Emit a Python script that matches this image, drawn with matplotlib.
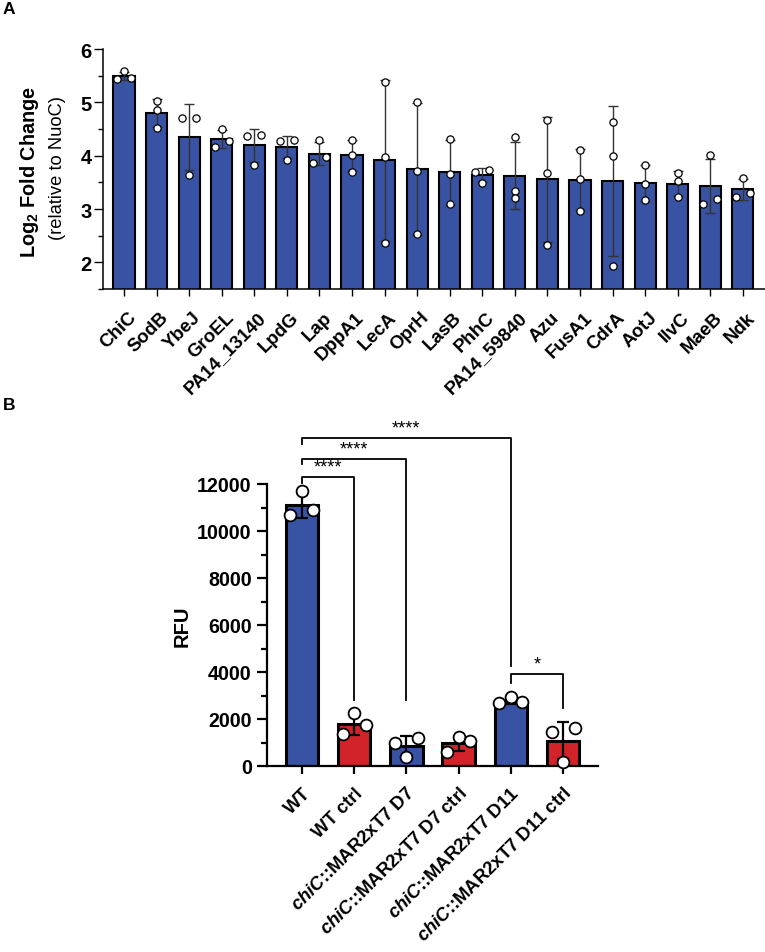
import numpy as np
import matplotlib
matplotlib.use('Agg')
from matplotlib import pyplot as plt
from matplotlib.ticker import MultipleLocator
from matplotlib.transforms import ScaledTranslation

plt.rcParams['font.family'] = 'Liberation Sans'
plt.rcParams['font.weight'] = 'bold'
plt.rcParams['mathtext.fontset'] = 'custom'
plt.rcParams['mathtext.rm'] = 'Liberation Sans:bold'
plt.rcParams['mathtext.it'] = 'Liberation Sans:italic:bold'
plt.rcParams['mathtext.bf'] = 'Liberation Sans:bold'

BLUE = '#3953a4'
RED = '#d2232a'

# PANEL A: log2 fold change, 3 replicates per protein
proteins = ['ChiC', 'SodB', 'YbeJ', 'GroEL', 'PA14_13140', 'LpdG', 'Lap', 'DppA1', 'LecA', 'OprH',
            'LasB', 'PhhC', 'PA14_59840', 'Azu', 'FusA1', 'CdrA', 'AotJ', 'IlvC', 'MaeB', 'Ndk']
fc_rep1 = [5.44, 5.03, 4.71, 4.50, 4.38, 4.29, 3.86, 4.29, 5.39, 5.01,
           4.31, 3.73, 4.35, 4.66, 4.11, 4.63, 3.83, 3.68, 4.01, 3.59]
fc_rep2 = [5.59, 4.86, 4.70, 4.17, 4.37, 4.28, 4.29, 4.02, 3.98, 3.72,
           3.65, 3.69, 3.33, 3.67, 3.56, 4.00, 3.46, 3.53, 3.10, 3.22]
fc_rep3 = [5.45, 4.51, 3.64, 4.28, 3.83, 3.92, 3.97, 3.70, 2.36, 2.54,
           3.10, 3.49, 3.20, 2.33, 2.97, 1.94, 3.16, 3.22, 3.18, 3.30]

# PANEL B: RFU, 3 replicates per strain
strains = ['WT', 'WT ctrl', '$\\mathit{chiC}$::MAR2xT7 D7', '$\\mathit{chiC}$::MAR2xT7 D7 ctrl',
           '$\\mathit{chiC}$::MAR2xT7 D11', '$\\mathit{chiC}$::MAR2xT7 D11 ctrl']
rfu_rep1 = [11700, 2250, 1200, 1220, 2700, 1600]
rfu_rep2 = [10700, 1350, 380, 580, 2920, 1460]
rfu_rep3 = [10900, 1750, 1000, 1080, 2720, 160]
strain_colors = [BLUE, RED, BLUE, RED, BLUE, RED]

# significance: (group a, group b, bracket height, left leg end, right leg end, label)
comparisons = [(0, 1, 12300, 12050, 2800, '****'),
               (0, 2, 13050, 12850, 2800, '****'),
               (0, 4, 13950, 13700, 4250, '****'),
               (4, 5, 3900, 3550, 2450, '*')]


def spread(vals, thr, w):
    # push overlapping points sideways, like the prism scatter
    vals = np.asarray(vals, dtype=float)
    order = np.argsort(vals)
    offs = np.zeros(len(vals))
    groups = [[order[0]]]
    for k in order[1:]:
        if vals[k] - vals[groups[-1][-1]] < thr:
            groups[-1].append(k)
        else:
            groups.append([k])
    for g in groups:
        if len(g) == 2:
            offs[g[0]], offs[g[1]] = -w, w
        elif len(g) == 3:
            offs[g[0]], offs[g[1]], offs[g[2]] = -w, w, 0
    return offs


fig = plt.figure(figsize=(7.65, 9.53), dpi=100)

# ---------------- A ----------------
axA = fig.add_axes([103/765, 1-290/953, 662/765, 240/953])
repsA = np.array([fc_rep1, fc_rep2, fc_rep3]).T
xA = np.arange(len(proteins))
meanA = repsA.mean(axis=1)
sdA = repsA.std(axis=1, ddof=1)
axA.bar(xA, meanA, width=0.65, color=BLUE, edgecolor='black', linewidth=1.5, zorder=2)
axA.errorbar(xA, meanA, yerr=sdA, fmt='none', ecolor='#333333', elinewidth=1,
             capsize=3.5, capthick=1, zorder=3)
for i in range(len(proteins)):
    offs = spread(repsA[i], 0.12, 0.21)
    axA.plot(xA[i] + offs, repsA[i], 'o', mfc='white', mec='black', ms=5.2, mew=0.9,
             zorder=4, clip_on=False)
axA.set_xlim(-0.645, 19.68)
axA.set_ylim(1.5, 6)
axA.yaxis.set_major_locator(MultipleLocator(1))
axA.yaxis.set_minor_locator(MultipleLocator(0.5))
axA.set_xticks(xA)
axA.set_xticklabels(proteins, rotation=45, ha='right', rotation_mode='anchor', fontsize=13.5)
axA.tick_params(axis='y', which='major', length=6.5, width=1, labelsize=14.5, pad=1.5)
axA.tick_params(axis='y', which='minor', length=3.5, width=1)
axA.tick_params(axis='x', length=5, width=1, pad=9)
shift = ScaledTranslation(2.5/72, 0, fig.dpi_scale_trans)
for lab in axA.get_xticklabels():
    lab.set_transform(lab.get_transform() + shift)
for s in ['top', 'right']:
    axA.spines[s].set_visible(False)
for s in ['left', 'bottom']:
    axA.spines[s].set_linewidth(1.1)
fig.text(30/765, 1-172/953, 'Log$_2$ Fold Change', rotation=90, ha='center', va='center',
         fontsize=14.3, fontweight='bold')
fig.text(58/765, 1-168/953, '(relative to NuoC)', rotation=90, ha='center', va='center',
         fontsize=13.2, fontweight='normal')
fig.text(0.004, 0.998, 'A', ha='left', va='top', fontsize=12.5, fontweight='bold')

# ---------------- B ----------------
axB = fig.add_axes([267/765, 1-767/953, 331/765, 282/953])
repsB = np.array([rfu_rep1, rfu_rep2, rfu_rep3]).T
xB = np.arange(len(strains))
meanB = repsB.mean(axis=1)
sdB = repsB.std(axis=1, ddof=1)
axB.bar(xB, meanB, width=0.62, color=strain_colors, edgecolor='black', linewidth=2.2, zorder=2)
axB.errorbar(xB, meanB, yerr=sdB, fmt='none', ecolor='black', elinewidth=1.6,
             capsize=4, capthick=1.6, zorder=3)
for i in range(len(strains)):
    offs = spread(repsB[i], 520, 0.22)
    axB.plot(xB[i] + offs, repsB[i], 'o', mfc='white', mec='black', ms=8.5, mew=1.3,
             zorder=4, clip_on=False)
for a, b, yl, ya, yb, lab in comparisons:
    axB.plot([a, a, b, b], [ya, yl, yl, yb], color='black', lw=1.3, clip_on=False, zorder=5)
    axB.text((a + b) / 2, yl + 80, lab, ha='center', va='bottom', fontsize=13,
             fontweight='normal', clip_on=False)
axB.set_xlim(-0.67, 5.67)
axB.set_ylim(0, 12000)
axB.yaxis.set_major_locator(MultipleLocator(2000))
axB.yaxis.set_minor_locator(MultipleLocator(1000))
axB.set_xticks(xB)
axB.set_xticklabels(strains, rotation=45, ha='right', rotation_mode='anchor', fontsize=13.3)
axB.tick_params(axis='y', which='major', length=7.5, width=1.6, labelsize=14.2, pad=3.5)
axB.tick_params(axis='y', which='minor', length=4, width=1.6)
axB.tick_params(axis='x', length=6, width=1.6, pad=7)
for s in ['top', 'right']:
    axB.spines[s].set_visible(False)
for s in ['left', 'bottom']:
    axB.spines[s].set_linewidth(1.6)
fig.text(182/765, 1-626/953, 'RFU', rotation=90, ha='center', va='center',
         fontsize=14.5, fontweight='bold')
fig.text(0.004, 1-398/953, 'B', ha='left', va='top', fontsize=12.5, fontweight='bold')

fig.savefig('out.png', dpi=100)
